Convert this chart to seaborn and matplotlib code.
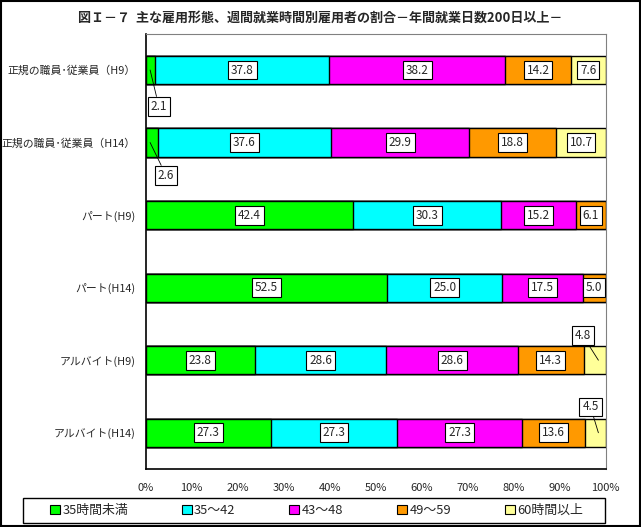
import pandas as pd
import matplotlib
matplotlib.use("Agg")
import matplotlib.pyplot as plt
from matplotlib.patches import Patch, Rectangle
import seaborn as sns

# Data (percent). The chart is a 100% stacked bar,
# so each row is scaled to its own total when drawn.
categories = ["正規の職員･従業員（H9）", "正規の職員･従業員（H14）", "パート(H9)",
              "パート(H14)", "アルバイト(H9)", "アルバイト(H14)"]
series_names = ["35時間未満", "35～42", "43～48", "49～59", "60時間以上"]
under35 = [2.1, 2.6, 42.4, 52.5, 23.8, 27.3]
h35_42 = [37.8, 37.6, 30.3, 25.0, 28.6, 27.3]
h43_48 = [38.2, 29.9, 15.2, 17.5, 28.6, 27.3]
h49_59 = [14.2, 18.8, 6.1, 5.0, 14.3, 13.6]
over60 = [7.6, 10.7, 0.0, 0.0, 4.8, 4.5]
x_ticks = [0, 10, 20, 30, 40, 50, 60, 70, 80, 90, 100]

colors = ["#00FF00", "#00FFFF", "#FF00FF", "#FF9900", "#FFFF99"]

# Small segments get their label pulled out with a leader line
# (series index, category index): (point in bar, label centre)
callouts = {
    (0, 0): ((1.0, 0.0), (2.9, 0.50)),
    (0, 1): ((1.0, 1.0), (4.45, 1.45)),
    (4, 4): ((98.4, 4.0), (95.0, 3.66)),
    (4, 5): ((98.4, 5.0), (96.7, 4.645)),
}

sns.set_style("white")
plt.rcParams["font.family"] = ["Noto Sans CJK JP", "DejaVu Sans"]

values = [under35, h35_42, h43_48, h49_59, over60]
totals = [sum(col) for col in zip(*values)]
df = pd.DataFrame({"cat": categories})
running = [0.0] * len(categories)
for name, vals in zip(series_names, values):
    running = [r + v / t * 100 for r, v, t in zip(running, vals, totals)]
    df[name] = running

fig = plt.figure(figsize=(6.41, 5.27), dpi=100)
ax = fig.add_axes([0.227, 0.110, 0.718, 0.826])

# draw cumulative bars from the outermost series inwards
for name, col in reversed(list(zip(series_names, colors))):
    sns.barplot(data=df, x=name, y="cat", color=col, orient="h", width=0.39,
                edgecolor="black", linewidth=1.0, errorbar=None, ax=ax,
                saturation=1)

box = dict(boxstyle="square,pad=0.25", facecolor="white", edgecolor="black", linewidth=0.8)
for j, vals in enumerate(values):
    for i, v in enumerate(vals):
        if v <= 0:
            continue
        share = v / totals[i] * 100
        left = df[series_names[j]][i] - share
        if (j, i) in callouts:
            pt, lab = callouts[(j, i)]
            ax.annotate(f"{v:.1f}", xy=pt, xytext=lab, ha="center", va="center",
                        fontsize=8.5, bbox=box,
                        arrowprops=dict(arrowstyle="-", lw=0.6, color="black",
                                        shrinkA=0, shrinkB=0))
        else:
            ax.text(left + share / 2, i, f"{v:.1f}", ha="center", va="center",
                    fontsize=8.5, bbox=box)

ax.set_xlim(0, 100)
ax.set_ylim(5.5, -0.5)
ax.set_xticks(x_ticks)
ax.set_xticklabels([f"{t}%" for t in x_ticks], fontsize=8)
ax.set_yticks(range(len(categories)))
ax.set_yticklabels(categories, fontsize=7.8)
ax.set_yticks([k + 0.5 for k in range(len(categories) - 1)], minor=True)
ax.tick_params(axis="y", which="major", length=0, pad=7)
ax.tick_params(axis="y", which="minor", length=3, direction="in", width=0.8)
ax.tick_params(axis="x", length=3, direction="in", width=0.8, pad=10)
ax.set_xlabel("")
ax.set_ylabel("")
for s in ["top", "right"]:
    ax.spines[s].set_color("#808080")
for s in ["left", "bottom"]:
    ax.spines[s].set_color("black")
    ax.spines[s].set_linewidth(1.2)

fig.text(0.5, 0.966, "図Ｉ－７  主な雇用形態、週間就業時間別雇用者の割合－年間就業日数200日以上－",
         ha="center", va="center", fontsize=9.4, fontweight="bold")

# legend frame drawn separately so the entries can sit inset like the original
fig.patches.append(Rectangle((23 / 641, 1 - 523 / 527), 582 / 641, 25 / 527,
                             transform=fig.transFigure, fill=False,
                             edgecolor="black", linewidth=1.0))
handles = [Patch(facecolor=c, edgecolor="black", linewidth=0.8) for c in colors]
fig.legend(handles, series_names, loc="center left", ncol=5, mode="expand",
           bbox_to_anchor=(50 / 641, 1 - 523 / 527, 533 / 641, 25 / 527), fontsize=9.3,
           frameon=False, handlelength=0.75, handleheight=0.75,
           handletextpad=0.2, borderaxespad=0, borderpad=0)

fig.patches.append(Rectangle((0.001, 0.001), 0.997, 0.997, transform=fig.transFigure,
                             fill=False, edgecolor="black", linewidth=1.5))

fig.savefig("out.png", dpi=100)
